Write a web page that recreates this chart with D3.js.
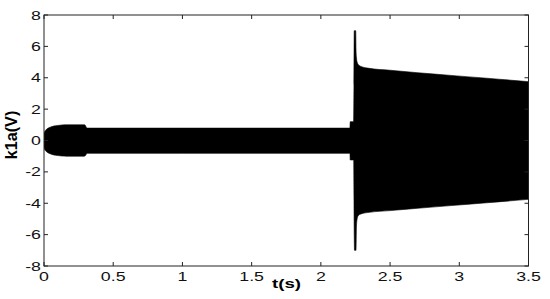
<!DOCTYPE html>
<html><head><meta charset="utf-8">
<script src="https://cdn.jsdelivr.net/npm/d3@7"></script>
<style>body{margin:0;background:#fff}</style></head><body>
<svg id="c" width="550" height="299"></svg>
<script>
const xTicks=[0,0.5,1,1.5,2,2.5,3,3.5];
const xTickLabels=["0","0.5","1","1.5","2","2.5","3","3.5"];
const yTicks=[-8,-6,-4,-2,0,2,4,6,8];
const yTickLabels=["-8","-6","-4","-2","0","2","4","6","8"];
const envT=[0,0.004,0.012,0.025,0.045,0.07,0.1,0.13,0.16,0.29,0.298,0.305,0.315,1.0,2.21,2.212,2.237,2.239,2.241,2.243,2.252,2.254,2.257,2.262,2.27,2.29,2.35,2.5,2.7,2.94,3.2,3.5];
const envUpper=[0.45,0.55,0.66,0.76,0.85,0.92,0.96,0.99,1.0,1.0,0.97,0.85,0.79,0.79,0.79,1.2,1.2,3.5,7.0,7.0,7.0,5.8,5.3,5.0,4.85,4.72,4.6,4.48,4.32,4.15,3.97,3.75];
const envLower=[-0.45,-0.55,-0.66,-0.76,-0.85,-0.92,-0.96,-0.99,-1.0,-1.0,-0.97,-0.87,-0.82,-0.82,-0.82,-1.24,-1.24,-3.5,-6.0,-7.0,-7.0,-7.0,-5.5,-5.0,-4.8,-4.68,-4.58,-4.47,-4.32,-4.15,-3.97,-3.75];
const xLabel="t(s)", yLabel="k1a(V)";

const svg=d3.select("#c");
const L=44,R=528.5,T=15,B=266;
const x=d3.scaleLinear().domain([0,3.5]).range([L,R]);
const y=d3.scaleLinear().domain([-8,8]).range([B,T]);
const font="'Liberation Sans',Arial,sans-serif";

svg.append("defs").append("clipPath").attr("id","pc").append("rect")
  .attr("x",L).attr("y",T).attr("width",R-L).attr("height",B-T);

const data=envT.map((t,i)=>({t,u:envUpper[i],l:envLower[i]}));
svg.append("path").datum(data).attr("clip-path","url(#pc)")
  .attr("d",d3.area().x(d=>x(d.t)).y0(d=>y(d.l)).y1(d=>y(d.u)).curve(d3.curveMonotoneX))
  .attr("fill","#000").attr("stroke","#000").attr("stroke-width",0.6);

svg.append("rect").attr("x",L).attr("y",T).attr("width",R-L).attr("height",B-T)
  .attr("fill","none").attr("stroke","#222").attr("stroke-width",1);

const tl=4;
const g=svg.append("g").attr("stroke","#222").attr("stroke-width",1);
xTicks.forEach(v=>{
  g.append("line").attr("x1",x(v)).attr("x2",x(v)).attr("y1",B).attr("y2",B-tl);
  g.append("line").attr("x1",x(v)).attr("x2",x(v)).attr("y1",T).attr("y2",T+tl);
});
yTicks.forEach(v=>{
  g.append("line").attr("x1",L).attr("x2",L+tl).attr("y1",y(v)).attr("y2",y(v));
  g.append("line").attr("x1",R).attr("x2",R-tl).attr("y1",y(v)).attr("y2",y(v));
});

const sx=1.42;
xTicks.forEach((v,i)=>{
  svg.append("text").attr("transform",`translate(${x(v)},${B+14.5}) scale(${sx},1)`)
    .attr("text-anchor","middle").attr("font-family",font).attr("font-size",12.5)
    .attr("fill","#111").text(xTickLabels[i]);
});
yTicks.forEach((v,i)=>{
  svg.append("text").attr("transform",`translate(${L-3},${y(v)+4.5}) scale(${sx},1)`)
    .attr("text-anchor","end").attr("font-family",font).attr("font-size",12.5)
    .attr("fill","#111").text(yTickLabels[i]);
});
svg.append("text").attr("transform",`translate(286.5,${B+21.5}) scale(1.38,1)`)
  .attr("text-anchor","middle").attr("font-family",font).attr("font-size",13.5)
  .attr("font-weight","bold").attr("fill","#000").text(xLabel);
svg.append("text").attr("transform",`translate(16.5,135) rotate(-90) scale(1.2,1.2)`)
  .attr("text-anchor","middle").attr("font-family",font).attr("font-size",13.5)
  .attr("font-weight","bold").attr("fill","#000").text(yLabel);
</script></body></html>
